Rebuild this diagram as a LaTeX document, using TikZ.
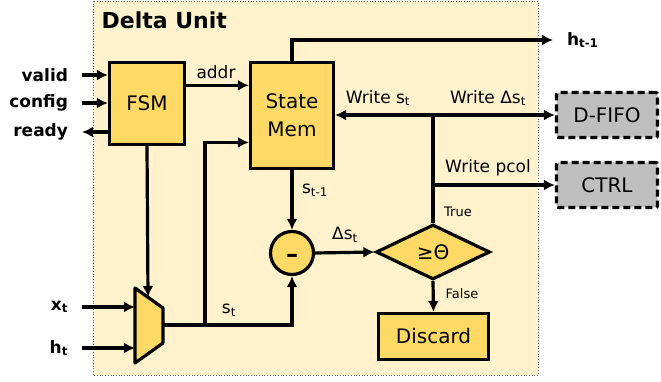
\documentclass[tikz,border=0pt]{standalone}
\usepackage{fontspec}
\setmainfont{DejaVu Sans}
\usetikzlibrary{arrows.meta,shapes.geometric}
\definecolor{unitbg}{HTML}{FFF2CC}
\definecolor{blockfill}{HTML}{FFD966}
\definecolor{extfill}{HTML}{BFBFBF}

\begin{document}
\begin{tikzpicture}[x=1pt,y=-1pt,line width=3.2pt,>={Latex[length=11pt,width=11pt]},
		block/.style={draw,fill=blockfill,inner sep=0pt,font=\fontsize{20}{22}\selectfont},
		extbox/.style={draw,dash pattern=on 7pt off 4pt,fill=extfill,rounded corners=2pt,inner sep=0pt,
			minimum width=101pt,minimum height=45pt,font=\fontsize{20}{22}\selectfont},
		lbl/.style={inner sep=0pt,font=\fontsize{17}{19}\selectfont},
		small/.style={inner sep=0pt,font=\fontsize{13}{15}\selectfont},
		port/.style={inner xsep=7pt,inner ysep=0pt,outer xsep=7pt,font=\fontsize{17}{19}\selectfont\bfseries}]
			\useasboundingbox (0,0) rectangle (661,382);
			\coordinate (unit-nw) at (93,1);
			\coordinate (unit-se) at (538,375);
			\draw[fill=unitbg,draw=black!60,line width=0.7pt,dotted] (unit-nw) rectangle (unit-se);
			\node[anchor=west,inner sep=0pt,font=\fontsize{22}{24}\selectfont\bfseries] (title) at (100,20) {Delta Unit};
			\node[block,minimum width=75pt,minimum height=82pt] (fsm) at (147,103.5) {FSM};
			\node[block,minimum width=83pt,minimum height=106pt,align=center,font=\fontsize{20}{28}\selectfont] (mem) at (292,115.5) {State\\Mem};
			\node[block,circle,minimum size=43pt,text height=18pt,text depth=0pt,font=\fontsize{24}{24}\selectfont\bfseries] (sub) at (292,253) {–};
			\node[block,diamond,minimum width=114pt,minimum height=55pt] (cmp) at (433,252) {≥Θ};
			\node[block,minimum width=110pt,minimum height=46pt] (dis) at (433.5,336.5) {Discard};
			\node[extbox] (fifo) at (607,115) {D-FIFO};
			\node[extbox] (ctrl) at (607,185) {CTRL};
			\draw[fill=blockfill,line join=round] (135,288) -- (163,308) -- (163,343) -- (135,363) -- cycle;
			\coordinate (mux-sel) at (148,297);
			\coordinate (mux-out) at (163,325);
			\coordinate (mux-x) at (135,307);
			\coordinate (mux-h) at (135,348);
			\coordinate (st-tap) at (205,325);
			\node[port,anchor=east] (valid) at (82,75) {valid};
			\node[port,anchor=east] (config) at (82,103) {config};
			\node[port,anchor=east] (ready) at (82,132) {ready};
			\node[port,anchor=east] (xin) at (82,307) {x\textsubscript{t}};
			\node[port,anchor=east] (hin) at (82,348) {h\textsubscript{t}};
			\node[port,anchor=west] (hout) at (553,40) {h\textsubscript{t-1}};
			\node[lbl] (addr-l) at (216,72) {addr};
			\node[lbl] (st-l) at (229,310) {s\textsubscript{t}};
			\node[lbl] (stm1-l) at (315,190) {s\textsubscript{t-1}};
			\node[lbl] (dst-l) at (345,235) {Δs\textsubscript{t}};
			\node[lbl] (wst-l) at (378,98) {Write s\textsubscript{t}};
			\node[lbl] (wdst-l) at (488,98) {Write Δs\textsubscript{t}};
			\node[lbl] (wpcol-l) at (488,168) {Write pcol};
			\node[small] (true-l) at (458,212) {True};
			\node[small] (false-l) at (462,294) {False};
			\path[->]
			(valid) edge (fsm.west |- valid)
			(config) edge (fsm.west |- config)
			(fsm.west |- ready) edge (ready)
			(fsm.east |- mem.145) edge (mem.145)
			(fsm.south) edge (mux-sel)
			(xin) edge (mux-x)
			(hin) edge (mux-h)
			(mem.south) edge (sub.north)
			(sub.east) edge (cmp.west)
			(cmp.south) edge (dis.north);
			\draw[->] (mem.north) |- (hout);
			\draw[->] (mux-out) -| (sub.south);
			\draw[->] (st-tap) |- (mem.212);
			\draw[->] (cmp.north) |- (fifo.west);
			\draw[->] (cmp.north |- fifo.west) -- (mem.east |- fifo.west);
			\draw[->] (cmp.north |- ctrl.west) -- (ctrl.west);
		\end{tikzpicture}
\end{document}
